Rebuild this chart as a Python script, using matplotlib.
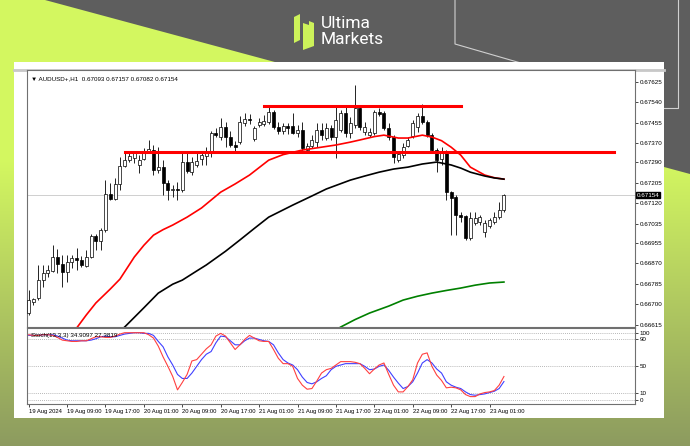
import numpy as np
import matplotlib.pyplot as plt
from matplotlib.patches import Polygon, Rectangle

# AUDUSD+ H1 candles, 19 Aug 01:00 .. 23 Aug 04:00
opens = [0.66664, 0.66709, 0.66725, 0.66800, 0.66829, 0.66838, 0.66896, 0.66867, 0.66834, 0.66875,
         0.66892, 0.66884, 0.66859, 0.66896, 0.66983, 0.66962, 0.67008, 0.67158, 0.67137, 0.67200,
         0.67274, 0.67299, 0.67308, 0.67279, 0.67304, 0.67333, 0.67341, 0.67258, 0.67270, 0.67204,
         0.67175, 0.67179, 0.67175, 0.67291, 0.67249, 0.67279, 0.67304, 0.67316, 0.67333, 0.67412,
         0.67395, 0.67437, 0.67395, 0.67362, 0.67374, 0.67453, 0.67470, 0.67387, 0.67445, 0.67449,
         0.67457, 0.67499, 0.67437, 0.67420, 0.67441, 0.67441, 0.67412, 0.67424, 0.67341, 0.67358,
         0.67374, 0.67424, 0.67391, 0.67433, 0.67395, 0.67424, 0.67495, 0.67412, 0.67445, 0.67516,
         0.67416, 0.67403, 0.67412, 0.67499, 0.67495, 0.67433, 0.67395, 0.67299, 0.67320, 0.67358,
         0.67399, 0.67437, 0.67482, 0.67457, 0.67403, 0.67341, 0.67304, 0.67333, 0.67166, 0.67146,
         0.67071, 0.67066, 0.66975, 0.67038, 0.67042, 0.67000, 0.67025, 0.67042, 0.67062, 0.67093]
highs = [0.66759, 0.66725, 0.66863, 0.66863, 0.66863, 0.66946, 0.66929, 0.66904, 0.66904, 0.66904,
         0.66933, 0.66900, 0.66925, 0.66991, 0.66991, 0.67017, 0.67216, 0.67204, 0.67225, 0.67312,
         0.67333, 0.67333, 0.67337, 0.67320, 0.67349, 0.67383, 0.67362, 0.67353, 0.67299, 0.67216,
         0.67195, 0.67208, 0.67328, 0.67328, 0.67312, 0.67328, 0.67328, 0.67353, 0.67420, 0.67433,
         0.67474, 0.67457, 0.67420, 0.67378, 0.67482, 0.67495, 0.67491, 0.67441, 0.67474, 0.67487,
         0.67520, 0.67507, 0.67457, 0.67453, 0.67453, 0.67495, 0.67445, 0.67457, 0.67370, 0.67403,
         0.67453, 0.67453, 0.67453, 0.67445, 0.67528, 0.67507, 0.67520, 0.67478, 0.67611, 0.67528,
         0.67457, 0.67433, 0.67507, 0.67516, 0.67503, 0.67453, 0.67403, 0.67337, 0.67370, 0.67395,
         0.67466, 0.67495, 0.67532, 0.67466, 0.67412, 0.67349, 0.67353, 0.67341, 0.67170, 0.67154,
         0.67083, 0.67071, 0.67083, 0.67083, 0.67071, 0.67050, 0.67058, 0.67083, 0.67125, 0.67157]
lows = [0.66655, 0.66696, 0.66717, 0.66771, 0.66813, 0.66834, 0.66829, 0.66771, 0.66792, 0.66850,
        0.66842, 0.66854, 0.66854, 0.66892, 0.66925, 0.66925, 0.67000, 0.67133, 0.67133, 0.67175,
        0.67270, 0.67291, 0.67287, 0.67245, 0.67299, 0.67328, 0.67237, 0.67245, 0.67154, 0.67133,
        0.67146, 0.67133, 0.67166, 0.67245, 0.67237, 0.67270, 0.67279, 0.67279, 0.67312, 0.67395,
        0.67383, 0.67353, 0.67353, 0.67337, 0.67366, 0.67441, 0.67449, 0.67378, 0.67437, 0.67441,
        0.67449, 0.67428, 0.67408, 0.67408, 0.67408, 0.67408, 0.67395, 0.67333, 0.67333, 0.67349,
        0.67353, 0.67383, 0.67383, 0.67383, 0.67308, 0.67416, 0.67395, 0.67391, 0.67433, 0.67424,
        0.67403, 0.67395, 0.67403, 0.67482, 0.67424, 0.67383, 0.67287, 0.67291, 0.67308, 0.67353,
        0.67391, 0.67416, 0.67449, 0.67395, 0.67328, 0.67249, 0.67279, 0.67133, 0.66987, 0.66987,
        0.67042, 0.66967, 0.66967, 0.67029, 0.67029, 0.66979, 0.67017, 0.67033, 0.67054, 0.67082]
closes = [0.66717, 0.66721, 0.66800, 0.66829, 0.66842, 0.66896, 0.66867, 0.66834, 0.66875, 0.66892,
          0.66884, 0.66863, 0.66896, 0.66983, 0.66962, 0.67008, 0.67158, 0.67137, 0.67200, 0.67274,
          0.67299, 0.67316, 0.67328, 0.67299, 0.67333, 0.67345, 0.67258, 0.67270, 0.67204, 0.67175,
          0.67179, 0.67175, 0.67291, 0.67254, 0.67291, 0.67295, 0.67320, 0.67337, 0.67412, 0.67403,
          0.67437, 0.67395, 0.67362, 0.67353, 0.67457, 0.67470, 0.67466, 0.67433, 0.67457, 0.67462,
          0.67499, 0.67437, 0.67420, 0.67441, 0.67433, 0.67412, 0.67424, 0.67349, 0.67358, 0.67383,
          0.67424, 0.67403, 0.67433, 0.67395, 0.67466, 0.67495, 0.67412, 0.67453, 0.67516, 0.67437,
          0.67437, 0.67416, 0.67499, 0.67491, 0.67433, 0.67395, 0.67312, 0.67324, 0.67353, 0.67383,
          0.67453, 0.67482, 0.67457, 0.67403, 0.67341, 0.67299, 0.67333, 0.67166, 0.67141, 0.67071,
          0.67062, 0.66975, 0.67058, 0.67058, 0.67062, 0.67038, 0.67050, 0.67062, 0.67091, 0.67154]

# moving averages (bar index, price)
ma_red_bar = [8, 10, 12, 14, 17, 19, 22, 24, 26, 28, 30, 33, 36, 40, 43, 46, 50, 53, 57, 61,
              64, 67, 69, 72, 74, 77, 79, 82, 84, 86, 88, 90, 92, 95, 97, 99]
ma_red = [0.66576, 0.66601, 0.66655, 0.66705, 0.66763, 0.66804, 0.66896, 0.66945, 0.66987, 0.67010,
          0.67029, 0.67062, 0.67100, 0.67166, 0.67200, 0.67237, 0.67299, 0.67322, 0.67341, 0.67353,
          0.67362, 0.67374, 0.67383, 0.67397, 0.67403, 0.67391, 0.67391, 0.67403, 0.67395, 0.67380,
          0.67353, 0.67320, 0.67270, 0.67237, 0.67226, 0.67220]
ma_black_bar = [18, 20, 24, 27, 30, 32, 35, 37, 41, 44, 47, 50, 55, 59, 62, 67, 70, 73, 76, 79,
                82, 85, 88, 90, 92, 95, 97, 99]
ma_black = [0.66570, 0.66605, 0.66685, 0.66746, 0.66783, 0.66800, 0.66838, 0.66863, 0.66920, 0.66967,
            0.67015, 0.67062, 0.67112, 0.67150, 0.67179, 0.67216, 0.67233, 0.67249, 0.67262, 0.67270,
            0.67283, 0.67291, 0.67279, 0.67266, 0.67249, 0.67233, 0.67225, 0.67220]
ma_green_bar = [63, 65, 68, 71, 75, 78, 81, 84, 87, 90, 93, 96, 99]
ma_green = [0.66580, 0.66605, 0.66636, 0.66663, 0.66692, 0.66717, 0.66733, 0.66746, 0.66757, 0.66767,
            0.66779, 0.66788, 0.66792]

# drawn levels
resist = 0.67524
resist_bars = [49, 90]
support = 0.67333
support_bars = [20, 122]
last_price = 0.67154

# stochastic (13,3,3)
stoch_main = [97, 96, 96, 97, 97, 96, 93, 89, 88, 87, 87, 88, 88, 91, 94, 94, 93, 93, 95, 98,
              100, 100, 100, 100, 100, 97, 92, 80, 64, 50, 35, 15, 26, 38, 58, 60, 68, 76, 82, 95,
              99, 95, 85, 75, 82, 90, 96, 92, 88, 87, 87, 75, 62, 54, 54, 50, 32, 22, 16, 17,
              28, 40, 45, 47, 52, 57, 57, 57, 56, 54, 47, 39, 46, 52, 55, 38, 22, 12, 12, 20,
              30, 55, 68, 70, 50, 37, 29, 18, 19, 18, 15, 8, 5, 5, 9, 11, 12, 14, 22, 34.9]
stoch_sig = [96, 96, 96, 97, 97, 97, 95, 92, 89, 88, 88, 88, 88, 89, 91, 94, 95, 94, 94, 96,
             98, 99, 100, 100, 99, 99, 96, 87, 79, 64, 52, 38, 32, 32, 40, 50, 60, 68, 72, 85,
             95, 94, 88, 82, 82, 88, 92, 92, 90, 88, 87, 82, 70, 60, 55, 52, 45, 34, 26, 24,
             27, 32, 36, 45, 50, 52, 54, 54, 54, 54, 50, 45, 46, 50, 52, 44, 34, 25, 17, 20,
             27, 40, 55, 60, 55, 46, 40, 27, 22, 19, 17, 12, 8, 7, 8, 9, 11, 13, 17, 27.4]
stoch_levels = [100, 90, 50, 10, 0]

price_ticks = [0.67625, 0.67540, 0.67455, 0.67370, 0.67290, 0.67205, 0.67120,
               0.67035, 0.66955, 0.66870, 0.66785, 0.66700, 0.66615]
date_ticks = list(range(0, 100, 8))
date_labels = ['19 Aug 2024', '19 Aug 09:00', '19 Aug 17:00', '20 Aug 01:00', '20 Aug 09:00',
               '20 Aug 17:00', '21 Aug 01:00', '21 Aug 09:00', '21 Aug 17:00', '22 Aug 01:00',
               '22 Aug 09:00', '22 Aug 17:00', '23 Aug 01:00']

plt.rcParams['font.family'] = ['Liberation Sans', 'DejaVu Sans']

W, H = 690, 446
fig = plt.figure(figsize=(W / 100, H / 100), dpi=100)
fs = 4.5


def box(x0, y0, x1, y1):
    return [x0 / W, 1 - y1 / H, (x1 - x0) / W, (y1 - y0) / H]


# ---- branded background ----
bg = fig.add_axes([0, 0, 1, 1])
bg.add_patch(Rectangle((0, 0), W, H, color='#5e5e5e', zorder=0))
lime = np.array([0.83, 0.97, 0.38])
grey = np.array([0.37, 0.37, 0.37])
ypix = np.arange(H)[:, None, None]
t = np.clip((ypix - 160) / 330.0, 0, 1) * 0.7
grad = lime * (1 - t) + grey * t
grad = np.repeat(grad, W, axis=1)
im = bg.imshow(grad, extent=(0, W, H, 0), zorder=1, aspect='auto')
clip = Polygon([(0, 0), (45, 0), (W, 174), (W, H), (0, H)], closed=True, transform=bg.transData)
im.set_clip_path(clip)
bg.plot([455, 455, 545], [0, 44, 70], color='#d0d0d0', lw=0.8, zorder=2)
bg.plot([678, 678, 664], [0, 108, 108], color='#d0d0d0', lw=0.8, zorder=2)
bg.add_patch(Rectangle((14, 62), 650, 356, fc='white', ec='none', zorder=3))
bg.plot([14, 664], [70, 70], color='#c8c8c8', lw=2, zorder=4)
bg.plot([513], [73], marker='v', ms=3, color='#c0c0c0', zorder=4)
# logo
bg.add_patch(Polygon([(294, 17), (300, 14), (300, 40), (294, 43)], closed=True, fc='#cdf25a', zorder=4))
bg.add_patch(Polygon([(303, 23), (309, 25), (309, 21), (314, 23), (314, 46), (303, 50)],
                     closed=True, fc='#cdf25a', zorder=4))
bg.text(321, 23, 'Ultima', color='white', fontsize=12.5, family='Roboto', va='center', ha='left', zorder=4)
bg.text(321, 39.5, 'Markets', color='white', fontsize=12.5, family='Roboto', va='center', ha='left', zorder=4)
bg.set_xlim(0, W)
bg.set_ylim(H, 0)
bg.axis('off')

# ---- price window ----
ax = fig.add_axes(box(27, 70, 635, 327))
x = np.arange(len(closes))
o = np.array(opens)
c = np.array(closes)
up = c >= o
bottom = np.minimum(o, c)
height = np.maximum(np.abs(c - o), 0.000012)
ax.axhline(last_price, color='#c8c8c8', lw=0.6, zorder=1)
ax.vlines(x, lows, highs, color='black', lw=0.6, zorder=2)
ax.bar(x, height, bottom=bottom, width=0.62, color=np.where(up, 'white', 'black'),
       edgecolor='black', linewidth=0.5, zorder=3)
ax.plot(ma_red_bar, ma_red, color='#ff0000', lw=1.2, zorder=4)
ax.plot(ma_black_bar, ma_black, color='black', lw=1.2, zorder=4)
ax.plot(ma_green_bar, ma_green, color='#008000', lw=1.2, zorder=4)
ax.plot(resist_bars, [resist, resist], color='#ff0000', lw=2.2, zorder=5)
ax.plot(support_bars, [support, support], color='#ff0000', lw=2.2, zorder=5)
ax.set_xlim(-0.35, 126.3)
ax.set_ylim(0.66605, 0.67674)
ax.set_xticks([])
ax.yaxis.tick_right()
ax.set_yticks(price_ticks)
ax.set_yticklabels(['%.5f' % v for v in price_ticks])
ax.tick_params(axis='y', labelsize=fs, length=2, pad=1.5, width=0.5)
for s in ax.spines.values():
    s.set_color('#707070')
    s.set_linewidth(0.8)
ax.text(0.006, 0.975, '\u25bc AUDUSD+,H1  0.67093 0.67157 0.67082 0.67154', transform=ax.transAxes,
        fontsize=fs, va='top', ha='left')
ax.text(1.003, last_price, '0.67154', transform=ax.get_yaxis_transform(), fontsize=fs, color='white',
        va='center', ha='left', clip_on=False,
        bbox=dict(fc='black', ec='black', pad=0.5))

# ---- stochastic window ----
sub = fig.add_axes(box(27, 328, 635, 404))
for lv in stoch_levels:
    sub.axhline(lv, color='#a0a0a0', lw=0.6, ls=(0, (1, 1.5)), zorder=1)
sub.plot(x, stoch_main, color='#ff4040', lw=0.8, zorder=3)
sub.plot(x, stoch_sig, color='#4040ff', lw=0.8, zorder=2)
sub.set_xlim(-0.35, 126.3)
sub.set_ylim(-6, 107)
sub.yaxis.tick_right()
sub.set_yticks(stoch_levels)
sub.set_yticklabels([str(v) for v in stoch_levels])
sub.set_xticks(date_ticks)
sub.set_xticklabels(date_labels, ha='left')
sub.tick_params(labelsize=fs, length=2, pad=1.5, width=0.5)
sub.tick_params(axis='x', labelsize=4.2)
for s in sub.spines.values():
    s.set_color('#707070')
    s.set_linewidth(0.8)
sub.text(0.006, 0.93, 'Stoch(13,3,3) 34.9097 27.3819', transform=sub.transAxes,
         fontsize=fs, va='top', ha='left')

fig.savefig('out.png', dpi=100)
